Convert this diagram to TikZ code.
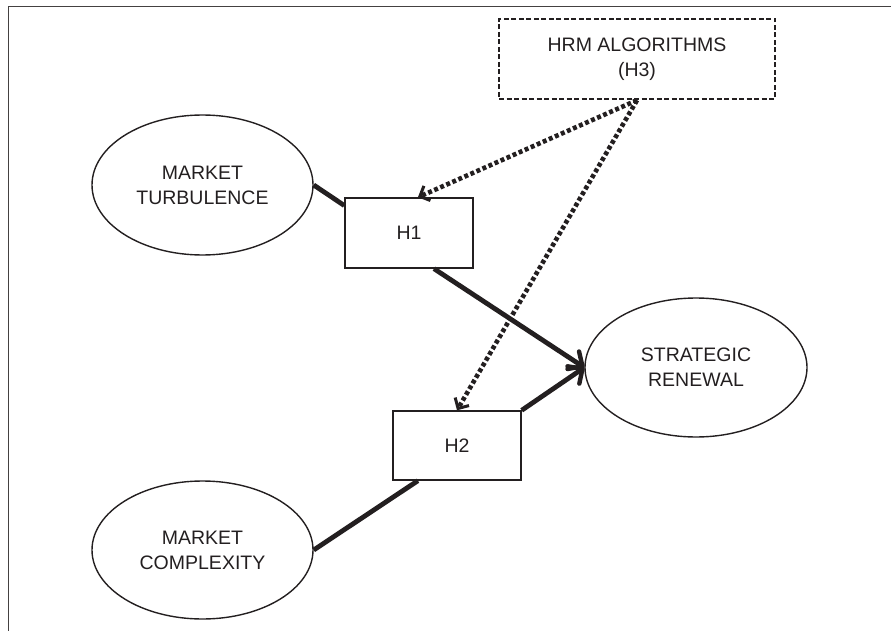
\documentclass[tikz,border=0pt]{standalone}
\usepackage{fontspec}
\setmainfont{Liberation Sans}
\usetikzlibrary{shapes.geometric,arrows.meta}
\definecolor{ink}{HTML}{231F20}
\tikzset{
  txt/.style={font=\fontsize{19.5}{25}\selectfont, text=ink, align=center, inner sep=0pt},
  oval/.style={txt, draw=ink, ellipse, line width=1.4pt},
  hbox/.style={txt, draw=ink, rectangle, line width=1.4pt},
  strong/.style={draw=ink, line width=4.8pt},
  strongarrow/.style={strong, -{Straight Barb[length=11pt,width=21pt,line width=4.4pt,round]}},
  dotline/.style={draw=ink, line width=4.6pt, dash pattern=on 4pt off 2.6pt,
     -{Straight Barb[length=8pt,width=16pt,line width=3pt]}},
}
\begin{document}
\begin{tikzpicture}[x=1pt,y=-1pt]
\useasboundingbox (0,0) rectangle (891,631);
\draw[draw=ink!85, line width=1.8pt] (891,6.5) -- (8.5,6.5) -- (8.5,631);

\node[hbox, dashed, dash pattern=on 5pt off 2.5pt, line width=2.4pt,
      minimum width=276pt, minimum height=80pt] (hrm) at (637,59) {HRM ALGORITHMS\\(H3)};
\node[oval, minimum width=221pt, minimum height=140pt] (mt) at (202.5,185) {MARKET\\TURBULENCE};
\node[hbox, minimum width=128pt, minimum height=70pt] (h1) at (409,233) {H1};
\node[hbox, minimum width=128pt, minimum height=69pt] (h2) at (457,445.5) {H2};
\node[oval, minimum width=222pt, minimum height=139pt] (sr) at (696,367.5) {STRATEGIC\\RENEWAL};
\node[oval, minimum width=221pt, minimum height=138pt] (mc) at (202.5,550) {MARKET\\COMPLEXITY};

\draw[strong] (mt.east) -- (h1.157);
\draw[strong] (mc.east) -- (h2.-138);
\draw[strongarrow] (h1.-55) -- (sr.west);
\draw[strongarrow] (h2.north east) -- (sr.west);
\draw[dotline] (hrm.south) -- (h1.76);
\draw[dotline] (hrm.south) -- (h2.north);
\end{tikzpicture}
\end{document}
